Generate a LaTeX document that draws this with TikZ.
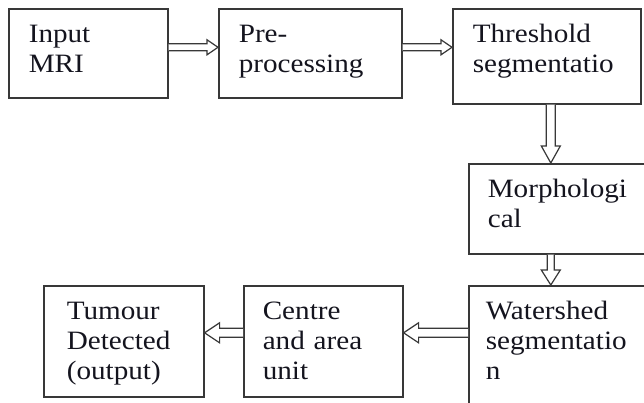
\documentclass[tikz,border=0pt]{standalone}
\usepackage{fontspec}
\setmainfont{Liberation Serif}[FakeStretch=1.1]
\usetikzlibrary{calc}

\definecolor{inkline}{HTML}{383838}
\definecolor{inktext}{HTML}{14141E}

\tikzset{
  stagebox/.style={draw=inkline, line width=1.6pt, text=inktext,
    anchor=north west, align=left, inner ysep=0pt, text height=34pt,
    font={\fontsize{26.5}{30}\selectfont}},
  flowarrow/.style={draw=inkline, line width=1.2pt, line join=miter, fill=white}
}

% hollow block arrow: #1 start, #2 tip, #3 shaft half-width,
% #4 head half-width, #5 head length
\newcommand\blockarrow[5]{%
  \path (#1) coordinate (ba-s) (#2) coordinate (ba-t);
  \path ($(ba-t)!#5!(ba-s)$) coordinate (ba-m);
  \draw[flowarrow]
    ($(ba-s)!#3!90:(ba-t)$) -- ($(ba-m)!#3!90:(ba-t)$)
    -- ($(ba-m)!#4!90:(ba-t)$) -- (ba-t)
    -- ($(ba-m)!#4!-90:(ba-t)$) -- ($(ba-m)!#3!-90:(ba-t)$)
    -- ($(ba-s)!#3!-90:(ba-t)$);
}

\begin{document}
\begin{tikzpicture}[x=1pt, y=-1pt]
  \useasboundingbox (0,0) rectangle (644,403);
  \clip (0,0) rectangle (644,403);
  \fill[white] (0,0) rectangle (644,403);

  % processing stages
  \node[stagebox, inner xsep=20pt, text width=119pt, text depth=55pt]
    (b1) at (8,8) {Input\\MRI};
  \node[stagebox, inner xsep=20pt, text width=143pt, text depth=55pt]
    (b2) at (218,8) {Pre-\\processing};
  \node[stagebox, inner xsep=20pt, text width=148pt, text depth=61pt]
    (b3) at (452,8) {Threshold\\segmentatio};
  \node[stagebox, inner xsep=19pt, text width=162pt, text depth=56pt]
    (b4) at (468,163) {Morphologi\\cal};
  \node[stagebox, inner xsep=17pt, text width=166pt, text depth=96pt]
    (b5) at (468,285) {Watershed\\segmentatio\\n};
  \node[stagebox, inner xsep=19pt, text width=121pt, text depth=77pt]
    (b6) at (243,285) {Centre\\and area\\unit};
  \node[stagebox, inner xsep=23pt, text width=114pt, text depth=77pt]
    (b7) at (43,285) {Tumour\\Detected\\(output)};

  % flow between stages
  \blockarrow{[yshift=6pt]b1.east}{[yshift=6pt]b2.west}{3.5pt}{7.5pt}{11pt}
  \blockarrow{[yshift=6pt]b2.east}{[yshift=9pt]b3.west}{3.5pt}{7.5pt}{11pt}
  \blockarrow{[xshift=4pt]b3.south}{[xshift=-18pt]b4.north}{4.5pt}{9.5pt}{17pt}
  \blockarrow{[xshift=-18pt]b4.south}{[xshift=-18pt]b5.north}{3.5pt}{9.5pt}{15pt}
  \blockarrow{[yshift=18pt]b5.west}{[yshift=8.5pt]b6.east}{4.5pt}{10pt}{15pt}
  \blockarrow{[yshift=8.5pt]b6.west}{[yshift=8.5pt]b7.east}{4.5pt}{10pt}{15pt}
\end{tikzpicture}
\end{document}
